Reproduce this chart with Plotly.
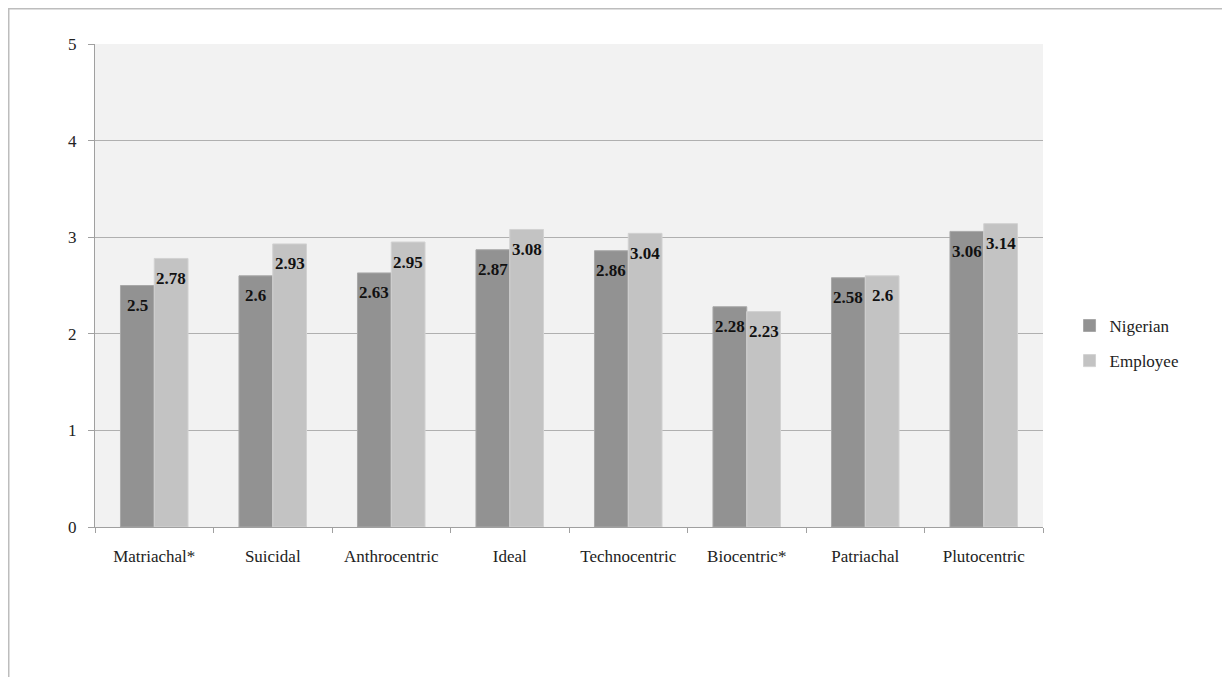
import plotly.graph_objects as go

categories = ["Matriachal*", "Suicidal", "Anthrocentric", "Ideal", "Technocentric",
              "Biocentric*", "Patriachal", "Plutocentric"]
nigerian = [2.5, 2.6, 2.63, 2.87, 2.86, 2.28, 2.58, 3.06]
employee = [2.78, 2.93, 2.95, 3.08, 3.04, 2.23, 2.6, 3.14]
series_names = ["Nigerian", "Employee"]

FONT = "Liberation Serif"

fig = go.Figure()
fig.add_trace(go.Bar(x=categories, y=nigerian, name=series_names[0], legendgroup="a",
                     marker=dict(color="#929292", line=dict(color="#a8a8a8", width=1))))
fig.add_trace(go.Bar(x=categories, y=employee, name=series_names[1], legendgroup="b",
                     marker=dict(color="#c3c3c3", line=dict(color="#d2d2d2", width=1))))

annotations = []
for c, v in zip(categories, nigerian):
    annotations.append(dict(x=c, y=v, text=f"{v:g}", showarrow=False, xshift=-17, yshift=-20,
                            font=dict(family=FONT, size=17, color="#111111", weight="bold")))
for c, v in zip(categories, employee):
    annotations.append(dict(x=c, y=v, text=f"{v:g}", showarrow=False, xshift=17, yshift=-20,
                            font=dict(family=FONT, size=17, color="#111111", weight="bold")))

# page has an 8px body margin; plot area sits at page x 95..1043, y 44..527
fig.update_layout(
    width=1230, height=677,
    margin=dict(l=87, r=195, t=36, b=158),
    paper_bgcolor="white",
    plot_bgcolor="#f2f2f2",
    barmode="group",
    bargap=0.43,
    bargroupgap=0,
    font=dict(family=FONT, size=17, color="#222222"),
    showlegend=True,
    legend=dict(x=1.028, y=0.38, xanchor="left", yanchor="middle",
                font=dict(family=FONT, size=17, color="#222222"),
                bgcolor="rgba(0,0,0,0)", itemwidth=30, tracegroupgap=10),
    annotations=annotations,
    shapes=[dict(type="rect", xref="paper", yref="paper",
                 x0=-87 / 948, x1=(1218 - 87) / 948, y0=-0.4, y1=(519) / 483,
                 line=dict(color="#bdbdbd", width=3), layer="below")],
)
fig.update_xaxes(showgrid=False, tickson="boundaries", ticks="outside", ticklen=5,
                 tickcolor="#a0a0a0", showline=True, linecolor="#a0a0a0", linewidth=1,
                 tickfont=dict(family=FONT, size=17, color="#222222"), ticklabelstandoff=14)
fig.update_yaxes(range=[0, 5], dtick=1, showgrid=True, gridcolor="#b0b0b0", gridwidth=1,
                 ticks="outside", ticklen=6, tickcolor="#a0a0a0",
                 showline=True, linecolor="#a0a0a0", linewidth=1, zeroline=False,
                 tickfont=dict(family=FONT, size=17, color="#222222"), ticklabelstandoff=8)

fig.write_html("out.html")
